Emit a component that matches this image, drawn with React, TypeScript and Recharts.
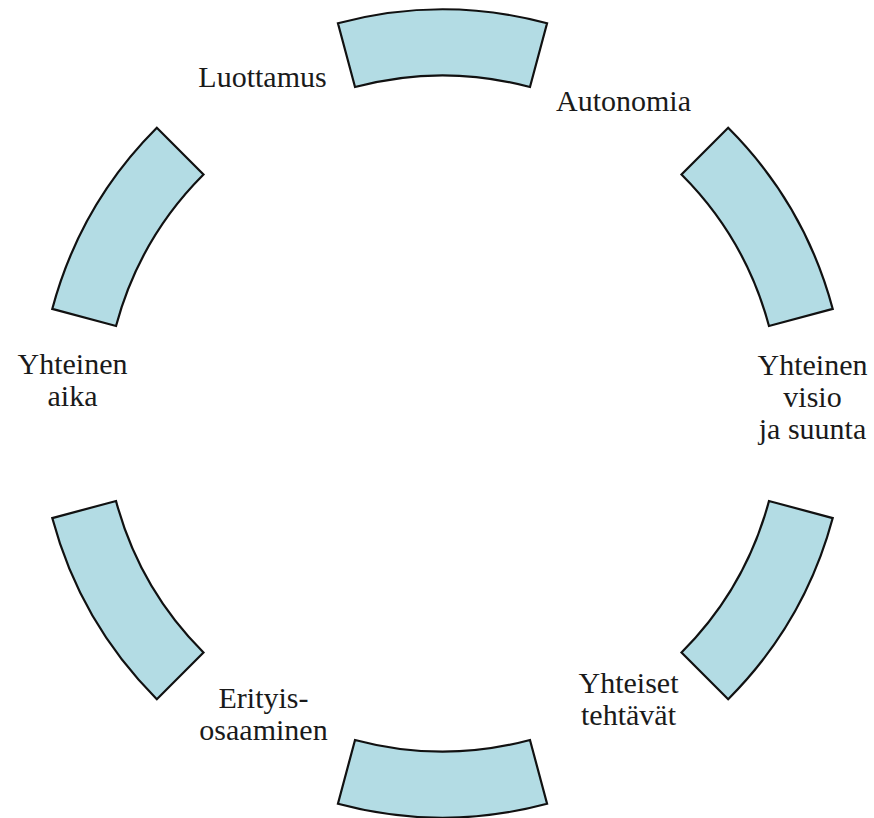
import { Cell, Pie, PieChart } from "recharts"

// six blocks of the cycle, equal size, and the labels that sit in the gaps between them
const blocks = ["b1", "b2", "b3", "b4", "b5", "b6"]
const blockValues = [1, 1, 1, 1, 1, 1]
const gapLabels = [
  "Luottamus",
  "Autonomia",
  "Yhteinen\nvisio\nja suunta",
  "Yhteiset\ntehtävät",
  "Erityis-\nosaaminen",
  "Yhteinen\naika",
]
const gapValues = [1, 1, 1, 1, 1, 1]

const blockData = blocks.map((name, i) => ({ name, value: blockValues[i] }))
const gapData = gapLabels.map((name, i) => ({ name, value: gapValues[i] }))

const FONT = "'Liberation Serif', 'Times New Roman', serif"
const LABEL_R = 370
const LINE_H = 32
// small hand nudges so the text sits where it does in the original
const NUDGE: Array<[number, number]> = [
  [5, -16],
  [-4, 8],
  [0, -17],
  [1, -35],
  [6, -20],
  [0, -34],
]

function GapLabel(props: any) {
  const { cx, cy, midAngle, index } = props
  const rad = (-midAngle * Math.PI) / 180
  const [nx, ny] = NUDGE[index] || [0, 0]
  const x = cx + LABEL_R * Math.cos(rad) + nx
  const yc = cy + LABEL_R * Math.sin(rad) + ny
  const lines = String(gapLabels[index]).split("\n")
  const y0 = yc - ((lines.length - 1) * LINE_H) / 2 + 10
  return (
    <text x={x} y={y0} textAnchor="middle" fontFamily={FONT} fontSize={30} fill="#1a1a1a">
      {lines.map((l, i) => (
        <tspan key={i} x={x} dy={i === 0 ? 0 : LINE_H}>
          {l}
        </tspan>
      ))}
    </text>
  )
}

export default function App() {
  return (
    <div style={{ position: "absolute", left: 0, top: 0, width: 874, height: 818, background: "#fff" }}>
      <PieChart width={874} height={818} margin={{ top: 0, right: 0, bottom: 0, left: 0 }}>
        <Pie
          data={blockData}
          dataKey="value"
          cx={442.5}
          cy={413.5}
          innerRadius={338}
          outerRadius={404}
          startAngle={105}
          endAngle={-255}
          paddingAngle={30}
          stroke="#111"
          strokeWidth={2.2}
          isAnimationActive={false}
        >
          {blockData.map((d) => (
            <Cell key={d.name} fill="#b3dce4" stroke="#111" />
          ))}
        </Pie>
        <Pie
          data={gapData}
          dataKey="value"
          cx={442.5}
          cy={413.5}
          innerRadius={338}
          outerRadius={404}
          startAngle={135}
          endAngle={-225}
          paddingAngle={30}
          fill="none"
          stroke="none"
          labelLine={false}
          label={GapLabel}
          isAnimationActive={false}
        />
      </PieChart>
    </div>
  )
}
